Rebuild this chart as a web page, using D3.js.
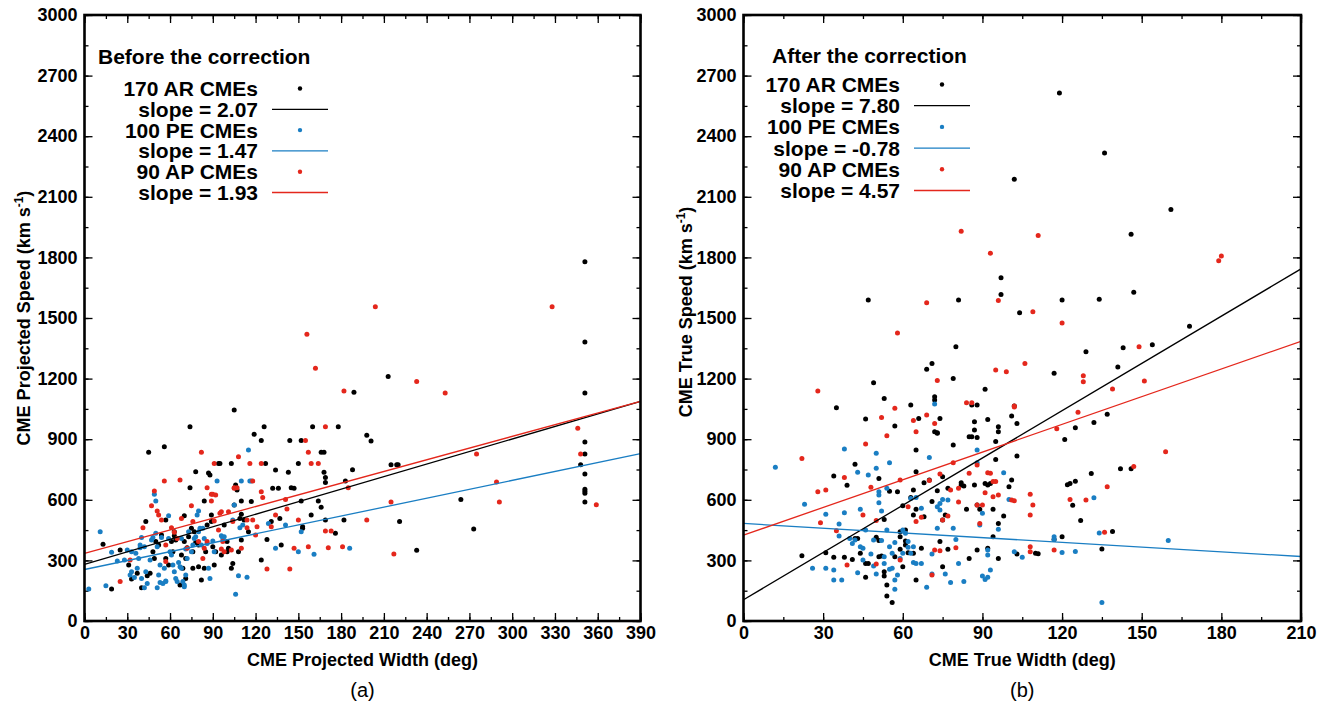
<!DOCTYPE html>
<html><head><meta charset="utf-8">
<script src="https://cdn.jsdelivr.net/npm/d3@7"></script>
<style>
body{margin:0;background:#fff;}
svg text{font-family:"Liberation Sans",Arial,Helvetica,sans-serif;}
</style>
</head><body>
<svg id="chart" width="1330" height="702"></svg>
<script>
// ---------------- DATA ----------------
// Panel (a): projected width (deg) vs projected speed (km/s)
const leftAR = [[13,380],[19,158],[25,351],[31,277],[33,208],[37,236],[40,165],[43,492],[44,224],[45,835],[46,236],[48,343],[49,310],[50,393],[52,376],[54,426],[56,863],[57,310],[57,500],[59,277],[61,393],[62,343],[63,442],[63,422],[64,401],[67,178],[68,327],[69,261],[70,393],[70,521],[71,211],[71,310],[72,363],[73,417],[74,962],[74,660],[75,459],[76,261],[76,343],[77,442],[78,739],[78,389],[80,376],[80,269],[82,203],[84,261],[84,594],[85,343],[86,475],[87,733],[88,723],[89,525],[89,492],[90,368],[91,277],[92,343],[94,780],[95,780],[96,327],[98,475],[100,393],[100,343],[101,360],[103,780],[103,261],[104,285],[105,1044],[105,574],[106,673],[107,648],[108,343],[109,508],[110,594],[110,401],[110,528],[112,500],[115,442],[117,591],[119,924],[124,302],[124,893],[126,962],[127,780],[128,404],[131,492],[132,657],[134,747],[136,657],[137,508],[138,376],[143,736],[144,893],[145,660],[147,657],[150,780],[152,893],[152,594],[153,459],[153,467],[159,525],[160,962],[164,594],[166,835],[168,835],[169,500],[168,736],[169,710],[169,686],[176,434],[178,962],[182,500],[183,693],[189,1132],[198,920],[201,891],[188,749],[166,563],[351,1779],[351,1381],[351,1129],[351,886],[351,827],[348,774],[351,728],[351,652],[351,642],[351,632],[351,589],[213,1211],[215,774],[219,774],[220,774],[221,492],[264,602],[273,455],[233,350]];
const leftPE = [[3,158],[11,442],[15,175],[19,340],[23,297],[28,302],[30,351],[32,228],[33,343],[33,244],[35,215],[36,335],[37,261],[38,310],[39,363],[39,376],[40,211],[40,413],[42,368],[42,165],[43,244],[44,186],[46,302],[47,401],[48,413],[49,627],[50,594],[50,434],[51,368],[51,165],[52,228],[53,277],[53,190],[54,413],[55,186],[56,261],[57,195],[57,198],[59,521],[59,409],[60,343],[61,327],[62,277],[63,244],[64,211],[65,195],[66,290],[67,269],[68,261],[68,409],[69,195],[70,170],[70,178],[71,356],[71,228],[72,310],[73,442],[75,343],[76,376],[77,409],[78,417],[79,525],[80,544],[80,442],[81,459],[82,376],[83,459],[84,409],[86,384],[87,261],[88,211],[90,396],[91,343],[93,693],[96,422],[97,409],[98,417],[104,500],[105,574],[106,132],[108,224],[109,462],[110,693],[111,475],[114,216],[115,846],[116,693],[117,693],[129,483],[134,360],[141,475],[150,343],[161,330],[186,360],[152,442]];
const leftAP = [[25,195],[32,302],[41,462],[47,571],[49,644],[51,545],[52,525],[54,500],[56,693],[57,376],[57,294],[61,462],[63,439],[65,409],[67,698],[68,508],[72,360],[75,571],[76,492],[80,393],[82,835],[83,310],[84,360],[86,393],[86,660],[89,627],[89,594],[90,627],[91,495],[91,780],[92,624],[94,450],[95,533],[96,541],[96,356],[97,393],[98,343],[101,541],[103,351],[104,492],[105,660],[105,657],[107,660],[108,813],[110,360],[114,500],[114,462],[116,780],[118,693],[118,500],[120,426],[121,467],[124,640],[124,780],[125,611],[128,257],[131,467],[134,525],[141,601],[142,554],[144,257],[147,360],[150,500],[155,893],[157,835],[157,368],[159,780],[162,1251],[164,780],[169,962],[169,446],[171,363],[173,446],[181,368],[182,1139],[185,660],[198,500],[156,1420],[204,1556],[328,1556],[233,1186],[253,1129],[215,589],[217,332],[275,827],[289,688],[291,589],[346,954],[348,827],[359,576]];

// Panel (b): true width (deg) vs true speed (km/s)
const rightAR = [[22,323],[31,338],[34,718],[35,1056],[34,315],[38,315],[39,672],[41,305],[42,776],[42,409],[43,408],[44,335],[46,1000],[46,216],[46,285],[47,285],[49,1180],[50,414],[51,705],[51,398],[51,318],[52,322],[53,1102],[53,503],[53,244],[53,223],[54,178],[54,124],[55,642],[56,92],[57,965],[57,318],[58,640],[59,355],[59,442],[59,417],[60,269],[60,571],[61,396],[61,450],[61,376],[62,338],[63,1069],[63,612],[64,335],[64,648],[64,525],[65,846],[65,739],[65,203],[65,553],[66,1003],[67,360],[68,685],[68,516],[69,1246],[70,698],[71,1275],[71,591],[72,1110],[72,1094],[72,937],[73,929],[73,932],[73,645],[74,1003],[74,393],[75,269],[75,714],[75,500],[76,525],[77,355],[77,657],[79,1201],[79,871],[80,1358],[82,673],[82,685],[83,668],[84,553],[85,912],[85,309],[86,912],[86,1069],[87,945],[87,987],[87,673],[88,909],[88,351],[88,1069],[88,574],[89,553],[91,1147],[91,681],[92,998],[92,673],[92,360],[93,681],[94,553],[94,417],[95,800],[95,888],[96,937],[96,962],[96,310],[96,483],[98,520],[100,665],[101,1015],[101,698],[102,1064],[103,978],[103,817],[104,1526],[103,332],[110,335],[47,1589],[81,1589],[119,2614],[136,2317],[102,2187],[161,2037],[146,1915],[97,1699],[97,1616],[120,1589],[134,1593],[147,1627],[168,1459],[129,1333],[143,1353],[154,1367],[141,1258],[117,1226],[125,957],[132,983],[137,1023],[121,899],[142,754],[146,754],[131,730],[122,675],[123,681],[125,692],[124,573],[127,498],[139,443],[120,417],[117,403],[135,357],[111,333]];
const rightPE = [[12,761],[23,578],[26,261],[31,261],[31,528],[34,203],[34,252],[36,480],[36,421],[37,203],[38,851],[38,536],[40,409],[41,384],[42,401],[43,239],[43,736],[44,368],[44,553],[45,360],[45,302],[46,450],[47,723],[48,332],[49,401],[49,272],[50,830],[50,756],[50,233],[51,640],[51,624],[51,586],[52,545],[52,398],[53,318],[53,285],[54,657],[54,450],[55,784],[55,368],[55,256],[56,335],[56,261],[57,157],[57,203],[57,388],[58,228],[59,310],[60,335],[60,450],[61,434],[62,365],[62,393],[63,335],[63,607],[64,368],[64,289],[65,612],[65,285],[67,558],[67,285],[69,167],[70,810],[71,332],[71,233],[72,1074],[73,566],[73,459],[74,582],[74,549],[75,602],[76,233],[77,599],[78,190],[79,459],[80,404],[81,285],[83,195],[88,846],[88,784],[89,475],[90,223],[90,533],[91,206],[92,327],[92,351],[93,252],[96,454],[98,734],[100,602],[102,343],[105,315],[132,610],[134,436],[117,417],[117,403],[160,399],[120,339],[125,344],[135,92],[92,216]];
const rightAP = [[22,805],[28,640],[31,648],[29,487],[35,447],[39,277],[38,710],[45,525],[46,876],[48,662],[50,497],[50,282],[52,1007],[54,917],[57,1053],[59,698],[59,302],[62,566],[64,992],[65,937],[65,492],[67,513],[69,1576],[69,1020],[70,695],[71,228],[72,351],[72,978],[73,1190],[74,348],[74,728],[75,500],[77,520],[78,648],[79,784],[80,363],[81,657],[81,589],[84,1081],[85,731],[86,1081],[88,772],[88,574],[89,483],[90,574],[91,635],[92,734],[93,731],[94,615],[94,690],[95,690],[95,1242],[96,624],[99,1234],[101,599],[102,1064],[102,1060],[106,1275],[108,627],[109,574],[108,525],[108,368],[108,343],[109,1531],[180,1807],[179,1783],[120,1475],[149,1358],[128,1214],[128,1184],[139,1148],[151,1188],[126,1034],[118,952],[159,838],[147,765],[123,602],[129,599],[137,664],[136,439],[117,351],[93,1821],[111,1908],[96,1587],[102,595],[82,1930],[58,1426],[28,1139]];

// Linear fits: [intercept, slope] for AR, PE, AP
const leftFitIntercepts = [280, 255, 335];
const leftSlopes = [2.07, 1.47, 1.93];
const rightFitIntercepts = [105, 483, 425];
const rightSlopes = [7.80, -0.78, 4.57];

// Legend & axis text
const seriesNames = ["170 AR CMEs", "100 PE CMEs", "90 AP CMEs"];
const leftSlopeLabels = ["slope = 2.07", "slope = 1.47", "slope = 1.93"];
const rightSlopeLabels = ["slope = 7.80", "slope = -0.78", "slope = 4.57"];
const yTicks = [0,300,600,900,1200,1500,1800,2100,2400,2700,3000];
const leftXTicks = [0,30,60,90,120,150,180,210,240,270,300,330,360,390];
const rightXTicks = [0,30,60,90,120,150,180,210];

// ---------------- DRAW ----------------
const colors = ["#000000", "#1a7ec3", "#e4271c"];
const svg = d3.select("#chart");
svg.append("rect").attr("width",1330).attr("height",702).attr("fill","#fff");

function drawPanel(o) {
  const x = d3.scaleLinear().domain([0, o.xmax]).range([o.x0, o.x1]);
  const y = d3.scaleLinear().domain([0, 3000]).range([621, 15]);
  const g = svg.append("g");
  const clipId = "clip" + o.id;
  svg.append("clipPath").attr("id", clipId).append("rect")
    .attr("x", o.x0).attr("y", 15).attr("width", o.x1 - o.x0).attr("height", 606);

  const minorX = d3.range(0, o.xmax + 0.1, 15);
  const minorY = d3.range(0, 3001, 150);
  // minor ticks
  g.append("g").attr("transform","translate(0,621)")
    .call(d3.axisBottom(x).tickValues(minorX).tickSize(-4).tickFormat(""));
  g.append("g").attr("transform","translate(0,15)")
    .call(d3.axisTop(x).tickValues(minorX).tickSize(-4).tickFormat(""));
  g.append("g").attr("transform",`translate(${o.x0},0)`)
    .call(d3.axisLeft(y).tickValues(minorY).tickSize(-4).tickFormat(""));
  g.append("g").attr("transform",`translate(${o.x1},0)`)
    .call(d3.axisRight(y).tickValues(minorY).tickSize(-4).tickFormat(""));
  // major ticks with labels
  g.append("g").attr("transform","translate(0,621)")
    .call(d3.axisBottom(x).tickValues(o.xTicks).tickSize(-8).tickPadding(5).tickFormat(d3.format("d")));
  g.append("g").attr("transform","translate(0,15)")
    .call(d3.axisTop(x).tickValues(o.xTicks).tickSize(-8).tickFormat(""));
  g.append("g").attr("transform",`translate(${o.x0},0)`)
    .call(d3.axisLeft(y).tickValues(yTicks).tickSize(-8).tickPadding(7).tickFormat(d3.format("d")));
  g.append("g").attr("transform",`translate(${o.x1},0)`)
    .call(d3.axisRight(y).tickValues(yTicks).tickSize(-8).tickFormat(""));
  g.selectAll(".domain").remove();
  g.selectAll(".tick line").attr("stroke","#000").attr("stroke-width",1.3);
  g.selectAll(".tick text").attr("font-size",18).attr("font-weight","bold").attr("fill","#000")
    .attr("font-family",'"Liberation Sans",Arial,sans-serif');

  // points
  const pts = svg.append("g").attr("clip-path", `url(#${clipId})`);
  o.series.forEach((data, i) => {
    pts.append("g").selectAll("circle").data(data).join("circle")
      .attr("cx", d => x(d[0])).attr("cy", d => y(d[1])).attr("r", 2.5).attr("fill", colors[i]);
  });
  // fit lines
  const line = d3.line().x(d => x(d[0])).y(d => y(d[1]));
  o.intercepts.forEach((b, i) => {
    const seg = [0, o.xmax].map(v => [v, b + o.slopes[i] * v]);
    pts.append("path").attr("d", line(seg)).attr("stroke", colors[i])
      .attr("stroke-width", 1.3).attr("fill","none");
  });

  // frame
  svg.append("rect").attr("x", o.x0).attr("y", 15).attr("width", o.x1 - o.x0).attr("height", 606)
    .attr("fill","none").attr("stroke","#000").attr("stroke-width",2.6);

  // axis titles
  svg.append("text").attr("x", (o.x0 + o.x1) / 2).attr("y", 666).attr("text-anchor","middle")
    .attr("font-size",18).attr("font-weight","bold").text(o.xTitle);
  const yt = svg.append("text").attr("transform",`translate(${o.yTitleX},${o.yTitleY}) rotate(-90)`)
    .attr("text-anchor","middle").attr("font-size",18).attr("font-weight","bold");
  yt.append("tspan").text(o.yTitle + " (km s");
  yt.append("tspan").attr("font-size",12).attr("dy",-7).text("-1");
  yt.append("tspan").attr("dy",7).text(")");

  // caption
  svg.append("text").attr("x", (o.x0 + o.x1) / 2).attr("y", 697).attr("text-anchor","middle")
    .attr("font-size",20).text(o.caption);

  // legend
  const L = o.legend;
  svg.append("text").attr("x", L.titleX).attr("y", L.titleY).attr("font-size",21)
    .attr("font-weight","bold").text(o.legendTitle);
  seriesNames.forEach((name, i) => {
    const b1 = L.y0 + (2 * i) * L.step, b2 = L.y0 + (2 * i + 1) * L.step;
    svg.append("text").attr("x", L.textX).attr("y", b1).attr("text-anchor","end")
      .attr("font-size",21).attr("font-weight","bold").text(name);
    svg.append("circle").attr("cx", (L.lineX0 + L.lineX1) / 2).attr("cy", b1 - 7.5).attr("r", 2.2).attr("fill", colors[i]);
    svg.append("text").attr("x", L.textX).attr("y", b2).attr("text-anchor","end")
      .attr("font-size",21).attr("font-weight","bold").text(o.slopeLabels[i]);
    svg.append("line").attr("x1", L.lineX0).attr("x2", L.lineX1).attr("y1", b2 - 7.5).attr("y2", b2 - 7.5)
      .attr("stroke", colors[i]).attr("stroke-width", 1.3);
  });
}

drawPanel({
  id: "a", x0: 84.5, x1: 640.5, xmax: 390, xTicks: leftXTicks,
  series: [leftAR, leftPE, leftAP], intercepts: leftFitIntercepts, slopes: leftSlopes,
  xTitle: "CME Projected Width (deg)", yTitle: "CME Projected Speed", yTitleX: 30, yTitleY: 318,
  caption: "(a)", legendTitle: "Before the correction", slopeLabels: leftSlopeLabels,
  legend: { titleX: 98, titleY: 64, textX: 258, y0: 96, step: 20.8, lineX0: 272, lineX1: 328 }
});
drawPanel({
  id: "b", x0: 743.5, x1: 1301, xmax: 210, xTicks: rightXTicks,
  series: [rightAR, rightPE, rightAP], intercepts: rightFitIntercepts, slopes: rightSlopes,
  xTitle: "CME True Width (deg)", yTitle: "CME True Speed", yTitleX: 692, yTitleY: 312,
  caption: "(b)", legendTitle: "After the correction", slopeLabels: rightSlopeLabels,
  legend: { titleX: 772, titleY: 62.5, textX: 900, y0: 92, step: 21.2, lineX0: 914, lineX1: 970 }
});
</script>
</body></html>
